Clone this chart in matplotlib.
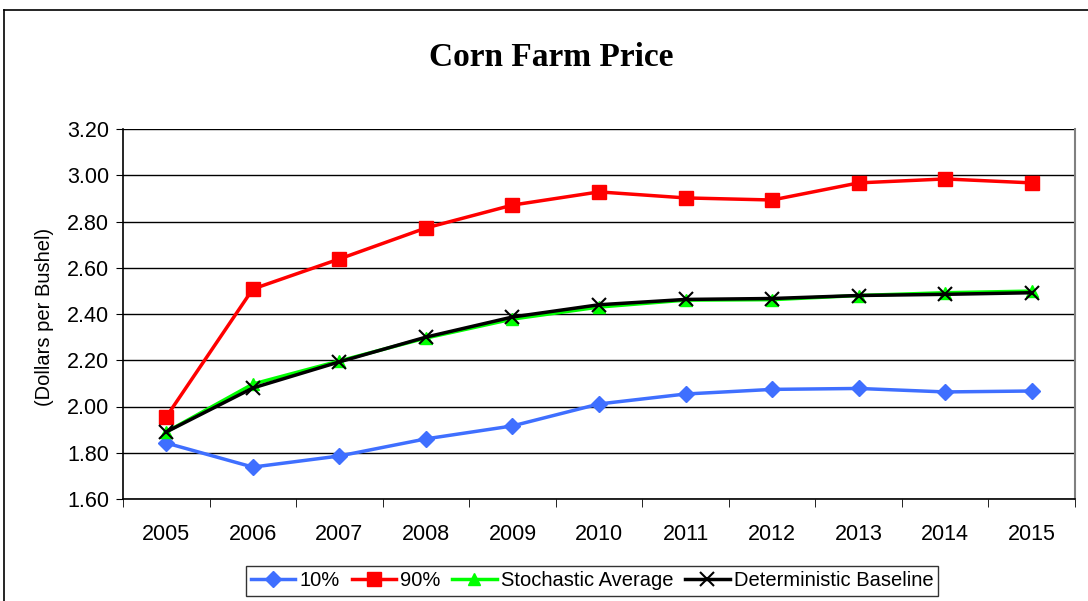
import matplotlib.pyplot as plt
from matplotlib.lines import Line2D

years = ['2005', '2006', '2007', '2008', '2009', '2010', '2011', '2012', '2013', '2014', '2015']
p10 = [1.842, 1.738, 1.786, 1.860, 1.916, 2.011, 2.054, 2.074, 2.078, 2.063, 2.067]
p90 = [1.955, 2.508, 2.638, 2.772, 2.871, 2.928, 2.902, 2.893, 2.967, 2.984, 2.967]
stoch_avg = [1.890, 2.097, 2.197, 2.296, 2.378, 2.430, 2.460, 2.462, 2.480, 2.492, 2.499]
det_base = [1.890, 2.080, 2.193, 2.300, 2.387, 2.440, 2.463, 2.467, 2.480, 2.485, 2.492]
yticks = [1.60, 1.80, 2.00, 2.20, 2.40, 2.60, 2.80, 3.00, 3.20]

plt.rcParams['font.family'] = ['Liberation Sans', 'DejaVu Sans']

W, H = 1088, 601
fig = plt.figure(figsize=(W / 100, H / 100), dpi=100)
ax = fig.add_axes([123 / W, 1 - 499 / H, (1075 - 123) / W, (499 - 129) / H])

x = list(range(len(years)))
ax.plot(x, p10, color='#3f6fff', lw=2.5, marker='D', ms=8, label='10%', zorder=3)
ax.plot(x, p90, color='#ff0000', lw=2.5, marker='s', ms=10, label='90%', zorder=3)
ax.plot(x, stoch_avg, color='#00ff00', lw=2.5, marker='^', ms=9, label='Stochastic Average', zorder=4)
ax.plot(x, det_base, color='black', lw=2.5, marker='x', ms=10, mew=1.5, label='Deterministic Baseline', zorder=5)

ax.set_xlim(-0.5, len(years) - 0.5)
ax.set_ylim(1.60, 3.20)
ax.set_yticks(yticks)
ax.set_yticklabels(['%.2f' % v for v in yticks], fontsize=15.5)
ax.set_xticks(x)
ax.set_xticklabels(years, fontsize=15.5)
ax.tick_params(axis='x', length=0, pad=18)
ax.set_xticks([i - 0.5 for i in range(len(years) + 1)], minor=True)
ax.tick_params(axis='x', which='minor', length=6, direction='out')
ax.tick_params(axis='y', length=5, direction='out', pad=5)
ax.grid(axis='y', color='black', lw=1)
ax.set_axisbelow(True)
ax.spines['top'].set_visible(False)
ax.spines['right'].set_color('#808080')
ax.spines['right'].set_linewidth(1.5)
ax.spines['left'].set_linewidth(1.2)
ax.spines['bottom'].set_linewidth(1.2)

fig.text(45 / W, 1 - 317 / H, '(Dollars per Bushel)', rotation=90, ha='center', va='center', fontsize=14.5)
fig.text(551 / W, 1 - 57 / H, 'Corn Farm Price', ha='center', va='center', fontsize=24,
         fontweight='bold', family=['Liberation Serif', 'DejaVu Serif'])

leg = fig.legend(loc='center', bbox_to_anchor=(592 / W, 1 - 581 / H), ncol=4, fontsize=14.5,
                 frameon=True, fancybox=False, edgecolor='black', handlelength=2.2,
                 handletextpad=0.2, columnspacing=0.6, borderpad=0.25)
leg.get_frame().set_linewidth(1)

# outer chart border
fig.add_artist(Line2D([4 / W, 4 / W], [0, 1 - 10 / H], color='black', lw=1.2, transform=fig.transFigure))
fig.add_artist(Line2D([4 / W, 1], [1 - 10 / H, 1 - 10 / H], color='black', lw=1.2, transform=fig.transFigure))

fig.savefig('out.png', dpi=100)
